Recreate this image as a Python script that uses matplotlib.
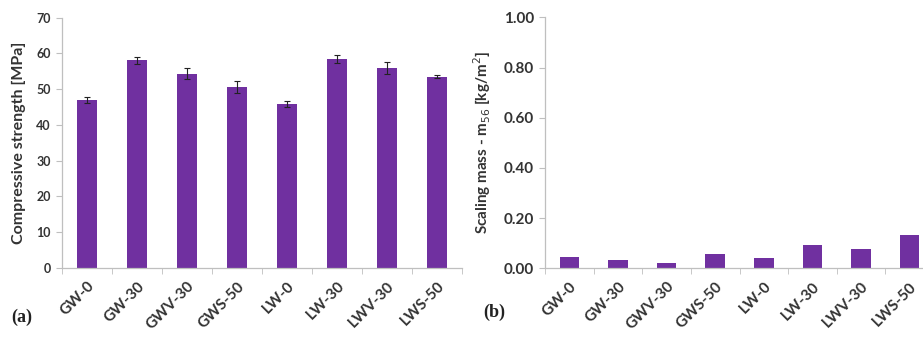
import matplotlib
matplotlib.use("Agg")
import matplotlib.pyplot as plt
import numpy as np

categories = ["GW-0", "GW-30", "GWV-30", "GWS-50", "LW-0", "LW-30", "LWV-30", "LWS-50"]
strength = [46.9, 58.0, 54.3, 50.6, 45.9, 58.4, 55.9, 53.5]
strength_err = [0.8, 1.0, 1.5, 1.7, 0.8, 1.0, 1.7, 0.3]
scaling = [0.046, 0.034, 0.020, 0.057, 0.040, 0.092, 0.078, 0.134]

W, H = 923, 338
fig = plt.figure(figsize=(W / 100, H / 100), dpi=100)
bar_color = "#7030A0"
axis_color = "#BFBFBF"
text_color = "#333333"
font = "Lato"

def px(x0, y0, x1, y1):
    return [x0 / W, 1 - y1 / H, (x1 - x0) / W, (y1 - y0) / H]

def style(ax, ylim, yticks, fmt, fs):
    x = np.arange(len(categories))
    ax.set_xlim(-0.5, len(categories) - 0.5)
    ax.set_ylim(*ylim)
    ax.set_yticks(yticks)
    ax.set_yticklabels([fmt.format(v) for v in yticks], fontsize=fs, family=font,
                       color=text_color, fontweight="bold")
    ax.set_xticks(x)
    ax.set_xticklabels(categories, rotation=45, ha="right", rotation_mode="anchor",
                       fontsize=11, family=font, color=text_color, fontweight="bold")
    ax.tick_params(axis="x", length=0, pad=8)
    ax.set_xticks(np.arange(len(categories) + 1) - 0.5, minor=True)
    ax.tick_params(axis="x", which="minor", length=4, color=axis_color, direction="out")
    ax.tick_params(axis="y", length=4, color=axis_color, direction="out", pad=4)
    for s in ["top", "right"]:
        ax.spines[s].set_visible(False)
    for s in ["left", "bottom"]:
        ax.spines[s].set_color(axis_color)
        ax.spines[s].set_linewidth(0.9)

# Panel (a)
ax1 = fig.add_axes(px(62, 17.5, 462, 268))
x = np.arange(len(categories))
ax1.bar(x, strength, width=0.4, color=bar_color, zorder=2,
        yerr=strength_err, error_kw=dict(ecolor="#222222", elinewidth=0.8, capsize=2, capthick=0.8))
style(ax1, (0, 70), np.arange(0, 71, 10), "{:.0f}", 9)
ax1.set_ylabel("Compressive strength [MPa]", fontsize=11.5, family=font, color=text_color,
               fontweight="bold")
ax1.yaxis.set_label_coords(-(62 - 26) / 400, 0.5)
fig.text(11 / W, 1 - 317 / H, "(a)", family="Liberation Serif", fontweight="bold",
         fontsize=13, color="#222222", va="center", ha="left")

# Panel (b)
ax2 = fig.add_axes(px(545, 17.3, 934, 268.3))
ax2.bar(x, scaling, width=0.4, color=bar_color, zorder=2)
style(ax2, (0, 1.0), np.arange(0, 1.01, 0.2), "{:.2f}", 11)
ax2.set_ylabel("Scaling mass - m$_{56}$ [kg/m$^2$]", fontsize=11, family=font, color=text_color,
               fontweight="bold")
ax2.yaxis.set_label_coords(-(545 - 493) / 389, 0.5)
fig.text(483 / W, 1 - 312 / H, "(b)", family="Liberation Serif", fontweight="bold",
         fontsize=13, color="#222222", va="center", ha="left")

fig.savefig("out.png", dpi=100)
